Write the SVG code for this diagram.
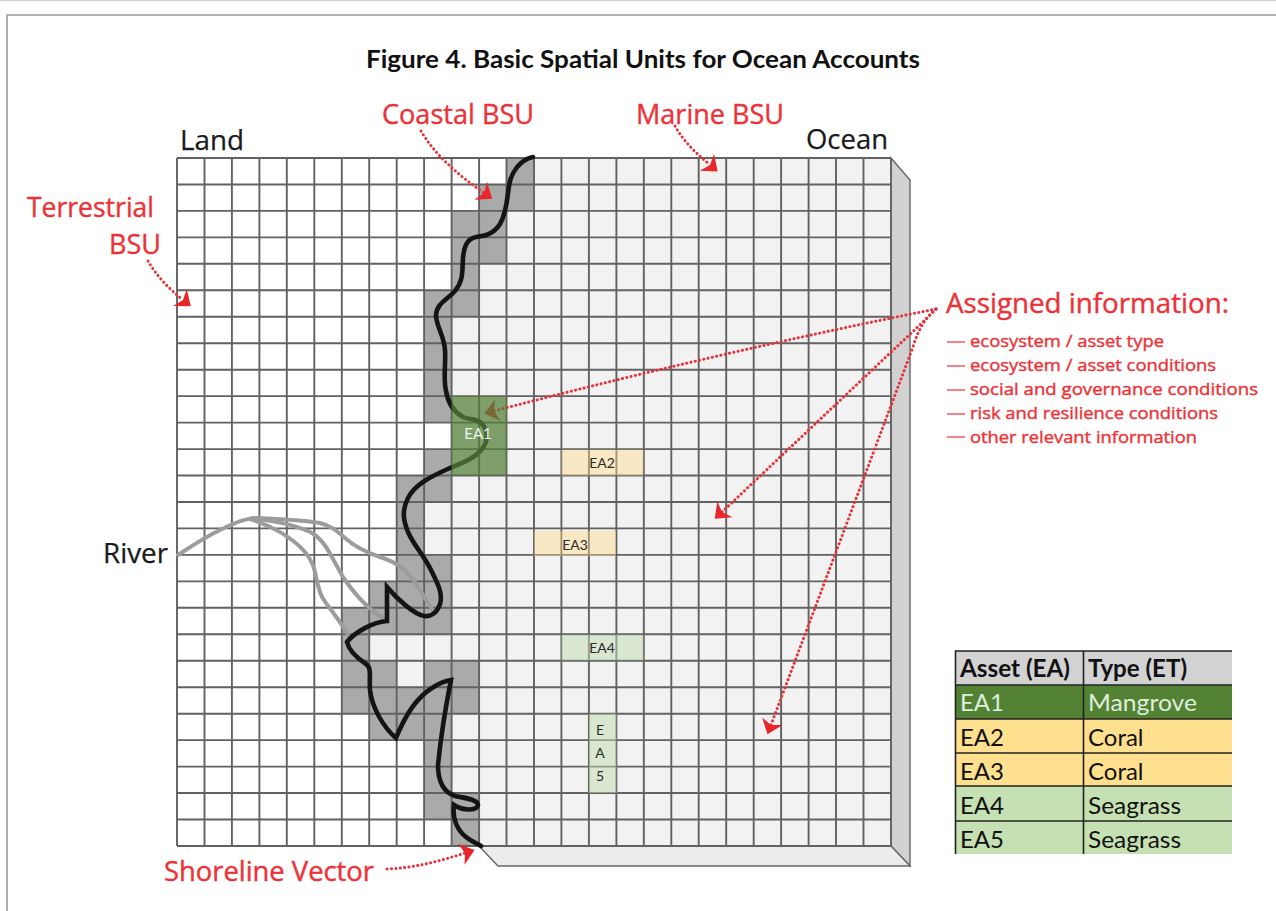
<svg xmlns="http://www.w3.org/2000/svg" width="1276" height="911" viewBox="0 0 1276 911">
<style>
.r{fill:#ed3237;stroke:#ed3237;stroke-width:.4;font-family:"Open Sans","Noto Sans",sans-serif}
.k{fill:#1a1a1a;stroke:#1a1a1a;stroke-width:.25;font-family:"Open Sans","Noto Sans",sans-serif;font-size:27px}
.l{font-size:17px}
.dash{stroke:#f25a5f;stroke-width:1.6}
.dot{fill:none;stroke:#e8323a;stroke-width:3;stroke-linecap:round;stroke-dasharray:.1 4.3}
.ea{font-family:Lato,"Noto Sans",sans-serif;font-size:14px;fill:#2b2b2b;text-anchor:middle}
.t{font-family:Lato,"Noto Sans",sans-serif;font-size:24px;fill:#111}
.b{font-weight:700}
.sep{fill:none;stroke:#222;stroke-width:1.6}
</style>
<defs>
<marker id="head" markerUnits="userSpaceOnUse" orient="auto" markerWidth="44" markerHeight="44" refX="0" refY="0" viewBox="-22 -22 44 44" overflow="visible">
<path d="M10,0 L-4,-11 L0,0 L-4,11Z" fill="#e8262c"/>
</marker>
</defs>
<rect width="1276" height="911" fill="#fff"/>
<g id="frame" fill="none">
<path d="M0,.5H1276" stroke="#d4d4d4" stroke-width="1.5"/>
<path d="M7,911V15H1276" stroke="#9a9a9a" stroke-width="1.6"/>
</g>
<text id="title" x="366" y="68" font-family="Lato,'Noto Sans',sans-serif" font-weight="700" font-size="24" fill="#111" textLength="554" lengthAdjust="spacingAndGlyphs">Figure 4. Basic Spatial Units for Ocean Accounts</text>

<g id="box3d" stroke="#666" stroke-width="1.4">
<path d="M891,158L910,180V866L891,846Z" fill="#d1d1d1"/>
<path d="M479,846H891L910,866H498Z" fill="#ececec"/>
</g>
<path id="ocean" fill="#f3f2f2" d="M534,158H891V210.900H534ZM506.500,210.900H891V263.800H506.500ZM479.100,263.800H891V316.800H479.100ZM451.600,316.800H891V396.100H451.600ZM506.500,396.100H891V475.500H506.500ZM451.600,475.500H891V502H451.600ZM424.100,502H891V554.900H424.100ZM451.600,554.900H891V634.300H451.600ZM369.200,634.300H891V660.700H369.200ZM396.700,660.700H424.100V687.200H396.700ZM479.100,660.700H891V713.700H479.100ZM451.600,713.700H891V793H451.600ZM479.100,793H891V846H479.100Z"/>
<path id="coastal-cells" fill="#a9abaa" d="M506.500,158H534V184.500H506.500ZM479.100,184.500H534V210.900H479.100ZM451.600,210.900H506.500V263.800H451.600ZM451.600,263.800H479.100V290.300H451.600ZM424.100,290.300H479.100V316.800H424.100ZM424.100,316.800H451.600V422.600H424.100ZM424.100,449.100H451.600V475.500H424.100ZM396.700,475.500H451.600V502H396.700ZM396.700,502H424.100V554.900H396.700ZM396.700,554.900H451.600V581.400H396.700ZM369.200,581.400H451.600V607.800H369.200ZM341.800,607.800H451.600V634.300H341.800ZM341.800,634.300H369.200V660.700H341.800ZM341.800,660.700H396.700V687.200H341.800ZM424.100,660.700H479.100V687.200H424.100ZM341.800,687.200H479.100V713.700H341.800ZM369.200,713.700H451.600V740.100H369.200ZM424.100,740.100H451.600V793H424.100ZM424.100,793H479.100V819.500H424.100ZM451.600,819.500H479.100V846H451.600Z"/>
<path id="grid" fill="none" stroke="#626262" stroke-width="1.9" d="M177,158V846M204.500,158V846M231.900,158V846M259.400,158V846M286.800,158V846M314.300,158V846M341.800,158V846M369.200,158V846M396.700,158V846M424.100,158V846M451.600,158V846M479.100,158V846M506.500,158V846M534,158V846M561.400,158V846M588.900,158V846M616.400,158V846M643.800,158V846M671.300,158V846M698.700,158V846M726.200,158V846M753.700,158V846M781.100,158V846M808.600,158V846M836,158V846M863.500,158V846M891,158V846M177,158H891M177,184.500H891M177,210.900H891M177,237.400H891M177,263.800H891M177,290.300H891M177,316.800H891M177,343.200H891M177,369.700H891M177,396.100H891M177,422.600H891M177,449.100H891M177,475.500H891M177,502H891M177,528.400H891M177,554.900H891M177,581.400H891M177,607.800H891M177,634.300H891M177,660.700H891M177,687.200H891M177,713.700H891M177,740.100H891M177,766.600H891M177,793H891M177,819.500H891M177,846H891"/>

<g id="asset-tints">
<rect x="561.400" y="449.600" width="82" height="26" fill="#ffdc85" opacity=".42"/>
<rect x="534" y="531" width="82" height="25" fill="#ffdc85" opacity=".42"/>
<rect x="561.400" y="634.800" width="82" height="25.500" fill="#c0dcae" opacity=".5"/>
<rect x="588.900" y="713.700" width="27.500" height="79.300" fill="#c0dcae" opacity=".5"/>
</g>

<g id="river" fill="none" stroke="#9c9c9c" stroke-width="4" stroke-linecap="round" stroke-linejoin="round">
<path d="M178,555C190,547 205,537 222,529C235,523 245,518 258,518C280,519 305,520 320,523C332,526 338,532 345,538C355,547 365,552 380,557C400,563 410,573 420,590C426,600 430,605 433,611"/>
<path d="M252,518C275,521 297,525 312,533C328,543 332,560 345,580C357,597 370,611 385,619"/>
<path d="M250,519C270,525 292,537 305,552C318,567 314,580 322,597C330,610 340,620 348,635"/>
</g>

<g id="shoreline">
<path fill="none" stroke="#141414" stroke-width="4.600" stroke-linejoin="miter" stroke-linecap="round" d="M533,157C520,160 511,172 509,186C507,198 507,212 500,224C493,235 484,236 476,237C466,239 464,248 463,258C462,270 464,280 455,291C447,300 437,303 436,315C436,326 444,335 445,350C446,365 443,378 446,391C448,403 454,412 463,417C470,420 478,418 483,425C488,432 488,442 482,449C474,459 462,463 450,468C432,476 415,484 408,498C401,512 404,522 408,532C414,546 424,555 432,572C438,584 443,594 440,604C437,613 431,617 424,616C414,614 398,600 387,587L387,621C373,622 355,632 347,642C349,651 357,658 366,664C372,668 369,676 370,690C372,708 384,728 396,738C404,718 416,698 432,688C438,684 444,681 451,680C446,705 441,735 438,765C438,782 443,792 455,796C464,798 478,799 478,805C477,811 463,811 454,805C452,818 457,830 466,837C471,841 476,843 481,846"/>
</g>

<g id="connectors">
<path class="dot" marker-end="url(#head)" d="M936,309Q720,352 494,411"/>
<path class="dot" marker-end="url(#head)" d="M936,309L925,320L722,512"/>
<path class="dot" marker-end="url(#head)" d="M936,309C925,318 918,330 913,347L771,725"/>
<path class="dot" marker-end="url(#head)" d="M421,131C435,155 458,175 484,193"/>
<path class="dot" marker-end="url(#head)" d="M675,126C684,142 696,153 710,165"/>
<path class="dot" marker-end="url(#head)" d="M148,261C156,275 168,288 183,300"/>
<path class="dot" marker-end="url(#head)" d="M387,869C415,868 440,861 465,853"/>
</g>

<rect id="mangrove-tint" x="451.600" y="396.100" width="54.900" height="79.400" fill="#547f38" opacity=".75"/>

<g id="asset-labels">
<text class="ea" x="478" y="439" style="fill:#eef2ea;font-size:15px">EA1</text>
<text class="ea" x="602" y="468">EA2</text>
<text class="ea" x="575" y="550">EA3</text>
<text class="ea" x="602" y="653">EA4</text>
<text class="ea" x="600" y="735">E</text>
<text class="ea" x="600" y="758">A</text>
<text class="ea" x="600" y="781">5</text>
</g>

<g id="labels">
<text class="k" x="180" y="150" textLength="64" lengthAdjust="spacingAndGlyphs">Land</text>
<text class="k" x="806" y="149" textLength="82" lengthAdjust="spacingAndGlyphs">Ocean</text>
<text class="k" x="103" y="563" textLength="65" lengthAdjust="spacingAndGlyphs">River</text>
<text class="r" x="382" y="124" font-size="27" textLength="152" lengthAdjust="spacingAndGlyphs">Coastal BSU</text>
<text class="r" x="636" y="124" font-size="27" textLength="148" lengthAdjust="spacingAndGlyphs">Marine BSU</text>
<text class="r" x="27" y="217" font-size="27" textLength="127" lengthAdjust="spacingAndGlyphs">Terrestrial</text>
<text class="r" x="109" y="254" font-size="27" textLength="52" lengthAdjust="spacingAndGlyphs">BSU</text>
<text class="r" x="164" y="881" font-size="27" textLength="210" lengthAdjust="spacingAndGlyphs">Shoreline Vector</text>
<text class="r" x="946" y="313" font-size="27" textLength="283" lengthAdjust="spacingAndGlyphs">Assigned information:</text>
<g class="dash"><path d="M947,342H965M947,366H965M947,390H965M947,414H965M947,437H965"/></g>
<text class="r l" x="970" y="347" textLength="194" lengthAdjust="spacingAndGlyphs">ecosystem / asset type</text>
<text class="r l" x="970" y="371" textLength="246" lengthAdjust="spacingAndGlyphs">ecosystem / asset conditions</text>
<text class="r l" x="970" y="395" textLength="288" lengthAdjust="spacingAndGlyphs">social and governance conditions</text>
<text class="r l" x="970" y="419" textLength="248" lengthAdjust="spacingAndGlyphs">risk and resilience conditions</text>
<text class="r l" x="970" y="443" textLength="227" lengthAdjust="spacingAndGlyphs">other relevant information</text>
</g>

<g id="asset-table">
<rect x="955" y="651" width="277" height="34" fill="#d2d2d2"/>
<rect x="955" y="685" width="277" height="34" fill="#548235"/>
<rect x="955" y="719" width="277" height="67" fill="#ffe08f"/>
<rect x="955" y="786" width="277" height="68" fill="#c5e0b3"/>
<path class="sep" d="M955.500,854V651H1232M1083.500,651V854M955,685H1232M955,719H1232M955,753H1232M955,786H1232M955,821H1232"/>
<text class="t b" x="960" y="677" textLength="110" lengthAdjust="spacingAndGlyphs">Asset (EA)</text><text class="t b" x="1088" y="677" textLength="99" lengthAdjust="spacingAndGlyphs">Type (ET)</text>
<text class="t" x="960" y="711" style="fill:#dfeedd">EA1</text><text class="t" x="1088" y="711" style="fill:#dfeedd" textLength="109" lengthAdjust="spacingAndGlyphs">Mangrove</text>
<text class="t" x="960" y="746">EA2</text><text class="t" x="1088" y="746">Coral</text>
<text class="t" x="960" y="780">EA3</text><text class="t" x="1088" y="780">Coral</text>
<text class="t" x="960" y="814">EA4</text><text class="t" x="1088" y="814" textLength="93" lengthAdjust="spacingAndGlyphs">Seagrass</text>
<text class="t" x="960" y="848">EA5</text><text class="t" x="1088" y="848" textLength="93" lengthAdjust="spacingAndGlyphs">Seagrass</text>
</g>
</svg>
